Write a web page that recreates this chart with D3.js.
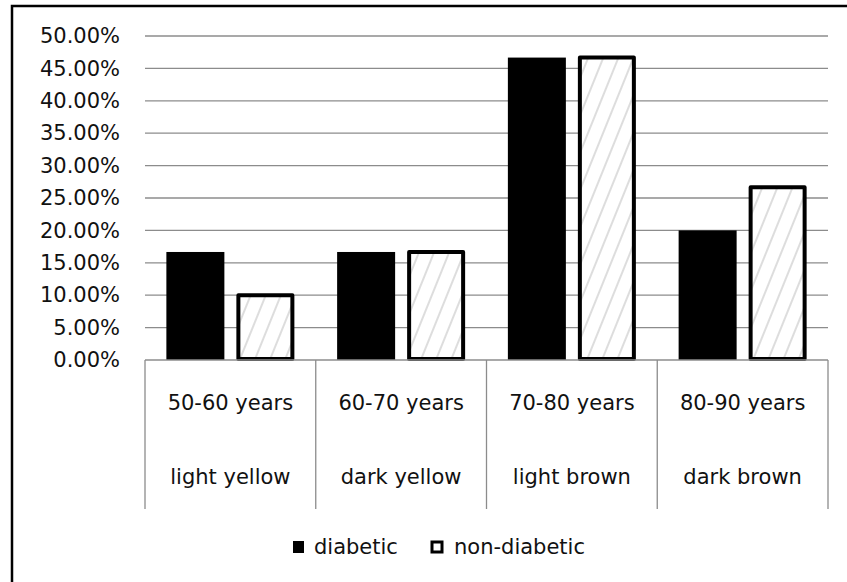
<!DOCTYPE html>
<html>
<head>
<meta charset="utf-8">
<script src="https://cdn.jsdelivr.net/npm/d3@7"></script>
<style>
  html, body { margin: 0; padding: 0; background: #fff; }
  svg { display: block; }
  text { font-family: "DejaVu Sans", sans-serif; fill: #111; }
</style>
</head>
<body>
<svg id="chart" width="847" height="582"></svg>
<script>
// Age groups and matching skin colour categories
const ageGroups = ["50-60 years", "60-70 years", "70-80 years", "80-90 years"];
const colourGroups = ["light yellow", "dark yellow", "light brown", "dark brown"];
// Share of patients (%) per group
const diabetic = [16.67, 16.67, 46.67, 20.0];
const nonDiabetic = [10.0, 16.67, 46.67, 26.67];
const seriesNames = ["diabetic", "non-diabetic"];
const yTicks = [0, 5, 10, 15, 20, 25, 30, 35, 40, 45, 50];

const FONT = "'DejaVu Sans', sans-serif";
const FS = 21;

const svg = d3.select("#chart");
const W = 847, H = 582;
const plot = { left: 145, right: 828, top: 36, bottom: 360 };

// Frame around the whole chart
svg.append("rect")
  .attr("x", 12).attr("y", 6)
  .attr("width", W + 10).attr("height", H + 10)
  .attr("fill", "none").attr("stroke", "#000").attr("stroke-width", 2.5);

// Hatch pattern for the non-diabetic bars
const defs = svg.append("defs");
const pat = defs.append("pattern")
  .attr("id", "hatch")
  .attr("patternUnits", "userSpaceOnUse")
  .attr("width", 14).attr("height", 14)
  .attr("patternTransform", "rotate(22)");
pat.append("rect").attr("width", 14).attr("height", 14).attr("fill", "#fff");
pat.append("line")
  .attr("x1", 7).attr("y1", 0).attr("x2", 7).attr("y2", 14)
  .attr("stroke", "#cfcfcf").attr("stroke-width", 1.4);

const x = d3.scaleBand().domain(ageGroups).range([plot.left, plot.right]);
const y = d3.scaleLinear().domain([0, 50]).range([plot.bottom, plot.top]);

// Horizontal gridlines
svg.append("g").selectAll("line")
  .data(yTicks.filter(t => t > 0))
  .join("line")
  .attr("x1", plot.left).attr("x2", plot.right)
  .attr("y1", d => y(d)).attr("y2", d => y(d))
  .attr("stroke", "#8c8c8c").attr("stroke-width", 1.3);

// Y axis tick labels
const yAxis = d3.axisLeft(y).tickValues(yTicks)
  .tickFormat(d => d3.format(".2f")(d) + "%")
  .tickSize(0).tickPadding(25);
const gy = svg.append("g").attr("transform", `translate(${plot.left},0)`).call(yAxis);
gy.select(".domain").remove();
gy.selectAll("text")
  .attr("font-family", FONT)
  .attr("font-size", FS).attr("fill", "#111");

// Bars
const barW = 58, gap = 12;
const offset = (x.bandwidth() - (barW * 2 + gap)) / 2;

svg.append("g").selectAll("rect")
  .data(diabetic)
  .join("rect")
  .attr("x", (d, i) => x(ageGroups[i]) + offset)
  .attr("y", d => y(d))
  .attr("width", barW)
  .attr("height", d => y(0) - y(d))
  .attr("fill", "#000");

svg.append("g").selectAll("rect")
  .data(nonDiabetic)
  .join("rect")
  .attr("x", (d, i) => x(ageGroups[i]) + offset + barW + gap + 2)
  .attr("y", d => y(d))
  .attr("width", barW - 4)
  .attr("height", d => y(0) - y(d) - 1)
  .attr("fill", "url(#hatch)")
  .attr("stroke", "#000").attr("stroke-width", 4)
  .attr("stroke-linejoin", "round");

// Category table below the plot
const axisBottom = 509;
const tbl = svg.append("g");
tbl.append("line")
  .attr("x1", plot.left).attr("x2", plot.right)
  .attr("y1", plot.bottom).attr("y2", plot.bottom)
  .attr("stroke", "#8c8c8c").attr("stroke-width", 1.5);
const bounds = ageGroups.map(g => x(g)).concat([plot.right]);
tbl.selectAll("line.sep")
  .data(bounds)
  .join("line")
  .attr("class", "sep")
  .attr("x1", d => d).attr("x2", d => d)
  .attr("y1", plot.bottom).attr("y2", axisBottom)
  .attr("stroke", "#8c8c8c").attr("stroke-width", 1.3);

tbl.selectAll("text.age")
  .data(ageGroups)
  .join("text")
  .attr("class", "age")
  .attr("x", d => x(d) + x.bandwidth() / 2)
  .attr("y", 410)
  .attr("text-anchor", "middle")
  .attr("font-size", FS)
  .text(d => d);

tbl.selectAll("text.colour")
  .data(colourGroups)
  .join("text")
  .attr("class", "colour")
  .attr("x", (d, i) => x(ageGroups[i]) + x.bandwidth() / 2)
  .attr("y", 484)
  .attr("text-anchor", "middle")
  .attr("font-size", FS)
  .text(d => d);

// Legend
const legend = svg.append("g");
legend.append("rect")
  .attr("x", 293).attr("y", 541).attr("width", 11).attr("height", 12)
  .attr("fill", "#000");
legend.append("text")
  .attr("x", 314).attr("y", 554).attr("font-size", FS).text(seriesNames[0]);
legend.append("rect")
  .attr("x", 432).attr("y", 542).attr("width", 10).attr("height", 10)
  .attr("fill", "#fff").attr("stroke", "#000").attr("stroke-width", 3);
legend.append("text")
  .attr("x", 454).attr("y", 554).attr("font-size", FS).text(seriesNames[1]);
</script>
</body>
</html>
